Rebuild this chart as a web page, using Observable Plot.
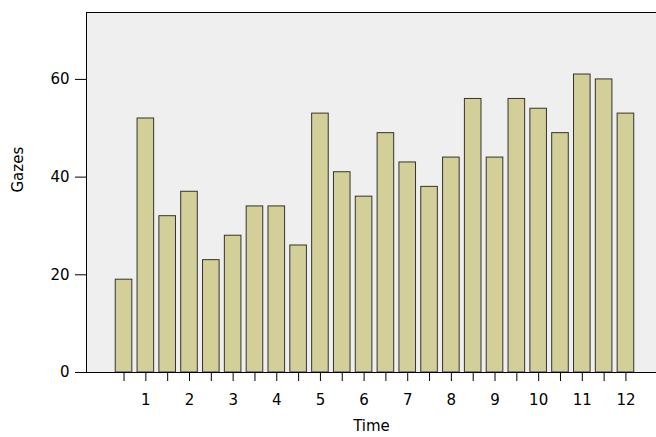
<!DOCTYPE html>
<html>
<head>
<script src="https://cdn.jsdelivr.net/npm/d3@7"></script>
<script src="https://cdn.jsdelivr.net/npm/@observablehq/plot@0.6"></script>
<style>body{margin:0;background:#fff;}</style>
</head>
<body>
<div id="chart"></div>
<script>
// half-hour steps of Time, labelled at whole numbers
const times = d3.range(1, 25).map(i => i / 2)
const gazes = [19, 52, 32, 37, 23, 28, 34, 34, 26, 53, 41, 36, 49, 43, 38, 44, 56, 44, 56, 54, 49, 61, 60, 53]
const yTicks = [0, 20, 40, 60]
const xLabels = d3.range(1, 13)

const data = times.map((t, i) => ({t, g: gazes[i]}))

let chart = Plot.plot({
  width: 656,
  height: 437,
  marginLeft: 86,
  marginRight: 0,
  marginTop: 12,
  marginBottom: 65,
  style: {fontFamily: "DejaVu Sans", fontSize: "15px", color: "#000"},
  x: {domain: [-0.36, 12.7]},
  y: {domain: [0, 73.7]},
  marks: [
    Plot.frame({fill: "#efefef", stroke: "#000"}),
    Plot.rectY(data, {x1: d => d.t - 0.19, x2: d => d.t + 0.19, y: "g", fill: "#d3cf99", stroke: "#333", strokeWidth: 1}),
    Plot.ruleY([0], {x1: -0.6, x2: 12.7, stroke: "#000", clip: false}),
    Plot.axisX(times, {tickSize: 9, tickFormat: () => "", tickPadding: 0}),
    Plot.axisX(xLabels, {tickSize: 0, tickPadding: 22, tickFormat: d => d, label: null, fontSize: 15}),
    Plot.axisY(yTicks, {tickSize: 11, tickPadding: 6, label: null, fontSize: 15}),
    Plot.text(["Time"], {frameAnchor: "bottom", dy: 58, fontSize: 15}),
    Plot.text(["Gazes"], {frameAnchor: "left", dx: -68, rotate: -90, fontSize: 15})
  ]
})

d3.select('#chart').append(() => chart)
</script>
</body>
</html>
